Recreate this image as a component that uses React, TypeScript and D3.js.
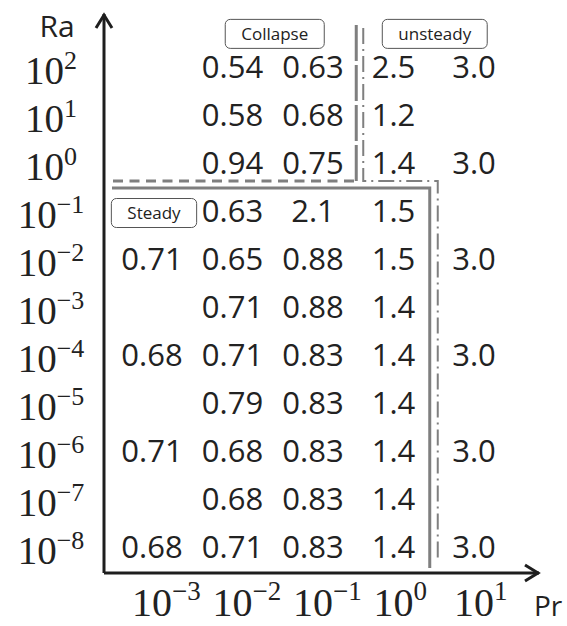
import * as d3 from 'd3';
import React, { useEffect, useRef } from 'react';

// Rayleigh number rows (top to bottom) and Prandtl number columns (left to right)
const raLevels = [1e2, 1e1, 1e0, 1e-1, 1e-2, 1e-3, 1e-4, 1e-5, 1e-6, 1e-7, 1e-8];
const prLevels = [1e-3, 1e-2, 1e-1, 1e0, 1e1];

// one array per Ra row, null where the cell is empty
const row1e2 = [null, 0.54, 0.63, 2.5, 3.0];
const row1e1 = [null, 0.58, 0.68, 1.2, null];
const row1e0 = [null, 0.94, 0.75, 1.4, 3.0];
const row1em1 = [null, 0.63, 2.1, 1.5, null];
const row1em2 = [0.71, 0.65, 0.88, 1.5, 3.0];
const row1em3 = [null, 0.71, 0.88, 1.4, null];
const row1em4 = [0.68, 0.71, 0.83, 1.4, 3.0];
const row1em5 = [null, 0.79, 0.83, 1.4, null];
const row1em6 = [0.71, 0.68, 0.83, 1.4, 3.0];
const row1em7 = [null, 0.68, 0.83, 1.4, null];
const row1em8 = [0.68, 0.71, 0.83, 1.4, 3.0];
const rows = [row1e2, row1e1, row1e0, row1em1, row1em2, row1em3, row1em4, row1em5, row1em6, row1em7, row1em8];

const raExponents = [2, 1, 0, -1, -2, -3, -4, -5, -6, -7, -8];
const prExponents = [-3, -2, -1, 0, 1];

const width = 567;
const height = 626;
const sans = '"Open Sans", "Noto Sans", sans-serif';
const serif = '"Liberation Serif", "DejaVu Serif", serif';
const gray = '#7f7f7f';
const ink = '#1e1e1e';

const sup = (e: number) => (e < 0 ? `\u2212${-e}` : `${e}`);

export default function App() {
  const ref = useRef<HTMLDivElement>(null);

  useEffect(() => {
    const root = d3.select(ref.current);
    root.selectAll('*').remove();

    const svg = root
      .append('svg')
      .attr('width', width)
      .attr('height', height)
      .style('position', 'absolute')
      .style('left', 0)
      .style('top', 0)
      .style('background', '#fff');

    const x = d3.scaleLog().domain([1e-3, 1e1]).range([152, 474]);
    const y = d3.scaleLog().domain([1e2, 1e-8]).range([67, 547]);

    // axis frame
    const x0 = 104;
    const y0 = 573;
    const xEnd = 539;
    const yTop = 14;

    const fmt = (v: number) => (v < 1 ? d3.format('.2f')(v) : d3.format('.1f')(v));

    // boundary lines between regimes
    const raSplit = y(Math.sqrt(1e0 * 1e-1));
    const prSplitA = x(Math.sqrt(1e-1 * 1e0));
    const prSplitB = x(Math.sqrt(1e0 * 1e1));

    const line = d3.line();

    // steady region (solid)
    svg
      .append('path')
      .attr('d', line([[x0 + 8, raSplit + 1], [prSplitB - 4, raSplit + 1], [prSplitB - 4, y0 - 5]]))
      .attr('fill', 'none')
      .attr('stroke', gray)
      .attr('stroke-width', 3);

    // collapse region (dashed)
    svg
      .append('path')
      .attr('d', line([[x0 + 9, raSplit - 6], [prSplitA + 3, raSplit - 6]]))
      .attr('fill', 'none')
      .attr('stroke', gray)
      .attr('stroke-width', 3)
      .attr('stroke-dasharray', '10 6.5');
    svg
      .append('path')
      .attr('d', line([[prSplitA + 3, raSplit - 6], [prSplitA + 3, 25]]))
      .attr('fill', 'none')
      .attr('stroke', gray)
      .attr('stroke-width', 3)
      .attr('stroke-dasharray', '36 4');

    // unsteady region (dash-dot)
    svg
      .append('path')
      .attr('d', line([[prSplitA + 10, 28], [prSplitA + 10, raSplit - 6], [prSplitB + 4, raSplit - 6], [prSplitB + 4, y0 - 15]]))
      .attr('fill', 'none')
      .attr('stroke', gray)
      .attr('stroke-width', 2)
      .attr('stroke-dasharray', '16 5 2 5');

    // axes with arrows
    svg
      .append('path')
      .attr('d', line([[x0, y0], [x0, yTop]]))
      .attr('stroke', ink)
      .attr('stroke-width', 3);
    svg
      .append('path')
      .attr('d', line([[x0, y0], [xEnd, y0]]))
      .attr('stroke', ink)
      .attr('stroke-width', 3);
    svg
      .append('path')
      .attr('d', line([[x0 - 8, yTop + 14], [x0, yTop + 1], [x0 + 8, yTop + 14]]))
      .attr('fill', 'none')
      .attr('stroke', ink)
      .attr('stroke-width', 3);
    svg
      .append('path')
      .attr('d', line([[xEnd - 14, y0 - 8], [xEnd - 1, y0], [xEnd - 14, y0 + 8]]))
      .attr('fill', 'none')
      .attr('stroke', ink)
      .attr('stroke-width', 3);

    // cell values
    const cells = rows.flatMap((r, i) =>
      r.map((v, j) => ({ ra: raLevels[i], pr: prLevels[j], v })).filter((d) => d.v !== null),
    );
    svg
      .append('g')
      .selectAll('text')
      .data(cells)
      .join('text')
      .attr('x', (d) => x(d.pr))
      .attr('y', (d) => y(d.ra) + 11)
      .attr('text-anchor', 'middle')
      .attr('font-family', sans)
      .attr('font-size', 31)
      .attr('fill', '#222')
      .text((d) => fmt(d.v as number));

    // Ra tick labels
    const raTicks = svg
      .append('g')
      .selectAll('text')
      .data(raLevels)
      .join('text')
      .attr('x', 51)
      .attr('y', (d) => y(d) + 17)
      .attr('text-anchor', 'middle')
      .attr('font-family', serif)
      .attr('font-size', 39)
      .attr('fill', '#222');
    raTicks.append('tspan').text('10');
    raTicks
      .append('tspan')
      .attr('dy', -15)
      .attr('font-size', 26)
      .text((d, i) => sup(raExponents[i]));

    // Pr tick labels
    const prTicks = svg
      .append('g')
      .selectAll('text')
      .data(prLevels)
      .join('text')
      .attr('x', (d) => x(d) - 20)
      .attr('y', 616)
      .attr('font-family', serif)
      .attr('font-size', 40)
      .attr('fill', '#222');
    prTicks.append('tspan').text('10');
    prTicks
      .append('tspan')
      .attr('dy', -16)
      .attr('font-size', 27)
      .text((d, i) => sup(prExponents[i]));

    // axis titles
    svg
      .append('text')
      .attr('x', 57)
      .attr('y', 37)
      .attr('text-anchor', 'middle')
      .attr('font-family', sans)
      .attr('font-size', 30)
      .attr('fill', '#222')
      .text('Ra');
    svg
      .append('text')
      .attr('x', 534)
      .attr('y', 616)
      .attr('font-family', sans)
      .attr('font-size', 28)
      .attr('fill', '#222')
      .text('Pr');

    // regime labels in rounded boxes
    const step = y(1e1) - y(1e2);
    const regimes = [
      { name: 'Collapse', cx: x(Math.sqrt(1e-2 * 1e-1)) + 2, cy: y(1e2) - step * 0.69 },
      { name: 'unsteady', cx: x(Math.sqrt(1e0 * 1e1)) + 1, cy: y(1e2) - step * 0.69 },
      { name: 'Steady', cx: x(1e-3) + 2, cy: y(1e-1) + 2 },
    ];
    regimes.forEach((r) => {
      const g = svg.append('g');
      const rect = g.append('rect');
      const t = g
        .append('text')
        .attr('x', r.cx)
        .attr('y', r.cy + 6)
        .attr('text-anchor', 'middle')
        .attr('font-family', sans)
        .attr('font-size', 17)
        .attr('fill', '#222')
        .text(r.name);
      const w = (t.node() as SVGTextElement).getComputedTextLength() + 32;
      rect
        .attr('x', r.cx - w / 2)
        .attr('y', r.cy - 14.5)
        .attr('width', w)
        .attr('height', 29)
        .attr('rx', 5)
        .attr('fill', '#fff')
        .attr('stroke', '#555')
        .attr('stroke-width', 1);
    });

    return () => {
      root.selectAll('*').remove();
    };
  }, []);

  return <div ref={ref} />;
}
